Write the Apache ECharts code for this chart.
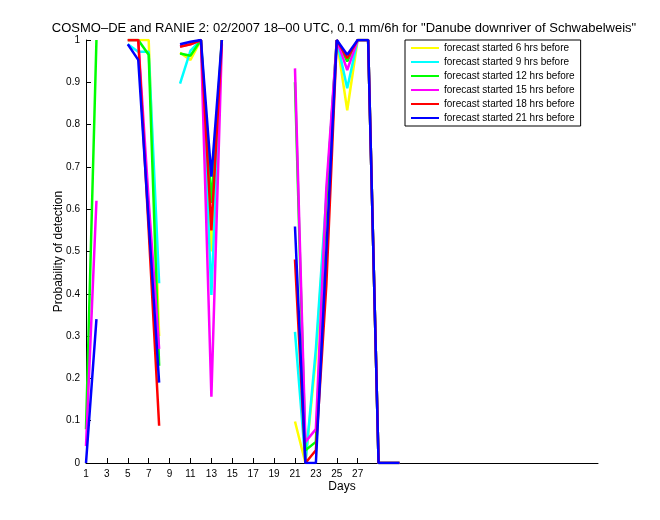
<!DOCTYPE html>
<html>
<head>
<meta charset="utf-8">
<script src="https://cdn.jsdelivr.net/npm/echarts@6/dist/echarts.min.js"></script>
<style>html,body{margin:0;padding:0;background:#fff}#c{width:660px;height:520px}</style>
</head>
<body>
<div id="c"></div>
<script>
var days = [1,2,3,4,5,6,7,8,9,10,11,12,13,14,15,16,17,18,19,20,21,22,23,24,25,26,27,28,29,30,31];
var xTicks = [1,3,5,7,9,11,13,15,17,19,21,23,25,27];
var seriesNames = ['forecast started 6 hrs before','forecast started 9 hrs before','forecast started 12 hrs before','forecast started 15 hrs before','forecast started 18 hrs before','forecast started 21 hrs before'];
var n = null;
//            1   2   3 4   5     6     7     8     9   10    11    12   13    14   15 16 17 18 19 20  21    22   23    24    25   26    27   28  29 30 31
var yellow  = [n,  n,  n,n, 1.0,  1.0,  1.0,  0.30, n, 0.97, 0.953,1.0, 0.50, 1.0, n,n,n,n,n,n, 0.098,0.0, 0.25, 0.62, 1.0, 0.834,1.0, 1.0, 0,0,0];
var cyan    = [n,  n,  n,n, 0.99, 0.972,0.972,0.425,n, 0.897,0.975,1.0, 0.397,1.0, n,n,n,n,n,n, 0.31, 0.0, 0.27, 0.63, 1.0, 0.886,1.0, 1.0, 0,0,0];
var green   = [0.08,1.0,n,n, 1.0,  1.0,  0.965,0.23, n, 0.968,0.963,1.0, 0.615,1.0, n,n,n,n,n,n, 0.90, 0.03, 0.05, 0.62, 1.0, 0.949,1.0, 1.0, 0,0,0];
var magenta = [0.04,0.62,n,n,1.0,  1.0,  0.62, 0.27, n, 0.985,0.99, 1.0, 0.157,0.99, n,n,n,n,n,n, 0.933,0.05, 0.08, 0.65, 1.0, 0.929,1.0, 1.0, 0,0,0];
var red     = [n,  n,  n,n, 1.0,  1.0,  0.55, 0.088,n, 0.984,0.99, 1.0, 0.55, 1.0, n,n,n,n,n,n, 0.481,0.0, 0.03, 0.42, 1.0, 0.957,1.0, 1.0, 0,0,0];
var blue    = [0.0,0.34,n,n, 0.99, 0.953,0.57, 0.19, n, 0.99, 0.996,1.0, 0.677,1.0, n,n,n,n,n,n, 0.559,0.0, 0.0,  0.5,  1.0, 0.965,1.0, 1.0, 0,0,0];
var colors = ['#ffff00','#00ffff','#00ff00','#ff00ff','#ff0000','#0000ff'];
var values = [yellow, cyan, green, magenta, red, blue];

var font = 'Liberation Sans, Arial, Helvetica, sans-serif';
var chart = echarts.init(document.getElementById('c'), null, {renderer:'canvas'});
var series = values.map(function(v, i){
  return {
    name: seriesNames[i], type:'line', showSymbol:false, connectNulls:false,
    lineStyle:{color:colors[i], width:2.5}, itemStyle:{color:colors[i]},
    data: days.map(function(d, k){ return [d, v[k]]; }),
    animation:false, z: 2+i
  };
});
chart.setOption({
  animation:false,
  backgroundColor:'#fff',
  title:{text:'COSMO\u2013DE and RANIE 2: 02/2007 18\u201300 UTC, 0.1 mm/6h for "Danube downriver of Schwabelweis"',
    left:339, top:17, textAlign:'center',
    textStyle:{fontFamily:font, fontSize:13, fontWeight:'normal', color:'#000'}},
  grid:{left:86, right:62, top:40, bottom:57, containLabel:false},
  legend:{orient:'vertical', left:405, top:40, padding:[3,6,3,6], itemGap:4,
    itemWidth:28, itemHeight:2, icon:'rect', borderColor:'#000', borderWidth:1, backgroundColor:'#fff',
    textStyle:{fontFamily:font, fontSize:10, color:'#000'}, data:seriesNames, z:20},
  xAxis:{type:'value', min:1, max:50, name:'Days', nameLocation:'middle', nameGap:18, nameMoveOverlap:false,
    nameTextStyle:{fontFamily:font, fontSize:12, color:'#000'},
    axisLine:{onZero:false, lineStyle:{color:'#000', width:1}},
    axisTick:{inside:true, length:5, customValues:xTicks, lineStyle:{color:'#000'}},
    axisLabel:{customValues:xTicks, fontFamily:font, fontSize:10, color:'#000', margin:6},
    splitLine:{show:false}},
  yAxis:{type:'value', min:0, max:1, interval:0.1, name:'Probability of detection', nameLocation:'middle', nameGap:21, nameMoveOverlap:false,
    nameTextStyle:{fontFamily:font, fontSize:12, color:'#000'},
    axisLine:{show:true, lineStyle:{color:'#000', width:1}},
    axisTick:{show:true, inside:true, length:5, lineStyle:{color:'#000'}},
    axisLabel:{fontFamily:font, fontSize:10, color:'#000', margin:6,
      formatter:function(v){ return String(Math.round(v*10)/10); }},
    splitLine:{show:false}},
  series: series
});
</script>
</body>
</html>
